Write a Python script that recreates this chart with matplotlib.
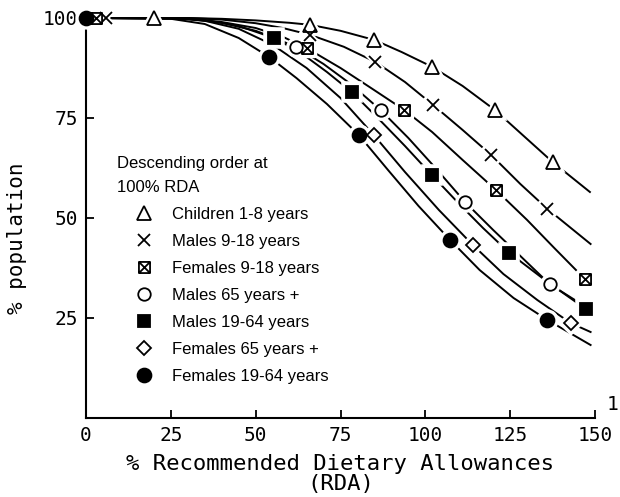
import numpy as np
import matplotlib
matplotlib.use("Agg")
import matplotlib.pyplot as plt
from matplotlib.path import Path
from matplotlib.lines import Line2D

# ----------------------------
# Data
# ----------------------------

children_x = [0, 20, 30, 40, 50, 60, 66, 75, 85, 93, 102, 111, 120.5, 129, 137.5, 148.5]
children_y = [100, 100, 100, 99.8, 99.4, 98.8, 98.3, 96.8, 94.5, 91.5, 87.8, 83, 77, 70.5, 64, 56.5]
children_marks = [1, 6, 8, 10, 12, 14]

m918_x = [0, 6, 30, 40, 50, 58, 66, 76, 85.3, 94, 102.3, 111, 119.4, 128, 136, 148.7]
m918_y = [100, 100, 100, 99.6, 98.7, 97.5, 95.8, 92.8, 89, 84, 78.25, 72, 65.75, 58.5, 52.25, 43.5]
m918_marks = [1, 6, 8, 10, 12, 14]

f918_x = [0, 3, 30, 40, 50, 58, 65, 75, 84, 93.8, 102, 111, 120.8, 130, 138, 147]
f918_y = [100, 100, 99.8, 99, 97.5, 95.3, 92.5, 87.5, 82.5, 77, 71.5, 64.5, 57, 49.5, 42.5, 34.75]
f918_marks = [1, 6, 9, 12, 15]

m65_x = [0, 30, 40, 50, 55, 61.9, 70, 78, 86.8, 95, 103, 111.7, 120, 128, 136.6, 145]
m65_y = [100, 99.8, 98.8, 96.8, 95.2, 92.75, 88.5, 83.5, 77, 70, 62.5, 54, 47, 40.5, 33.5, 29]
m65_marks = [5, 8, 11, 14]

m1964_x = [0, 25, 35, 45, 55.4, 63, 71, 78.3, 86, 94, 101.9, 110, 117, 124.8, 136, 147.3]
m1964_y = [100, 100, 99.5, 98, 95, 91.5, 86.5, 81.5, 75, 68, 60.75, 53.5, 47.5, 41.25, 34, 27.25]
m1964_marks = [4, 7, 10, 13, 15]

f65_x = [0, 25, 35, 45, 55, 65, 75, 84.8, 94, 104, 114, 123, 133, 142.8, 148.7]
f65_y = [100, 100, 99.3, 97.3, 93.3, 87.5, 80, 70.75, 61.5, 52, 43.25, 36, 29.5, 23.75, 21.5]
f65_marks = [7, 10, 13]

f1964_x = [0, 25, 35, 45, 54, 62, 71, 80.4, 89, 98, 107.3, 116, 126, 136, 148.7]
f1964_y = [100, 99.8, 98.5, 95, 90.25, 85, 78.5, 70.75, 62, 53, 44.5, 37, 30, 24.5, 18.25]
f1964_marks = [0, 4, 7, 10, 13]

labels = [
    "Children 1-8 years",
    "Males 9-18 years",
    "Females 9-18 years",
    "Males 65 years +",
    "Males 19-64 years",
    "Females 65 years +",
    "Females 19-64 years",
]

x_ticks = [0, 25, 50, 75, 100, 125, 150]
y_ticks = [25, 50, 75, 100]

# square with an x inside
boxx = Path(
    [(-1, -1), (1, -1), (1, 1), (-1, 1), (-1, -1), (-1, -1), (1, 1), (-1, 1), (1, -1)],
    [Path.MOVETO, Path.LINETO, Path.LINETO, Path.LINETO, Path.CLOSEPOLY,
     Path.MOVETO, Path.LINETO, Path.MOVETO, Path.LINETO],
)

series = [
    (children_x, children_y, children_marks, "^", "white", 10),
    (m918_x, m918_y, m918_marks, "x", "none", 9),
    (f918_x, f918_y, f918_marks, boxx, "white", 8),
    (m65_x, m65_y, m65_marks, "o", "white", 9),
    (m1964_x, m1964_y, m1964_marks, "s", "black", 9),
    (f65_x, f65_y, f65_marks, "D", "white", 7),
    (f1964_x, f1964_y, f1964_marks, "o", "black", 10),
]

# ----------------------------
# Plot
# ----------------------------

mono = "DejaVu Sans Mono"

fig = plt.figure(figsize=(6.2, 4.97), dpi=100)
ax = fig.add_axes([86 / 620, 1 - 418 / 497, 509 / 620, 400 / 497])

handles = []
for (x, y, marks, mk, face, ms) in series:
    ax.plot(x, y, color="black", lw=1.4, zorder=2, clip_on=False)
    ax.plot(np.array(x)[marks], np.array(y)[marks], ls="none", marker=mk,
            ms=ms + 2, mfc="white", mec="white", mew=4, zorder=3, clip_on=False)
    ax.plot(np.array(x)[marks], np.array(y)[marks], ls="none", marker=mk,
            ms=ms, mfc=face, mec="black", mew=1.3, zorder=4, clip_on=False)
    handles.append(Line2D([], [], ls="none", marker=mk, ms=ms, mfc=face,
                          mec="black", mew=1.3))

ax.set_xlim(0, 150)
ax.set_ylim(0, 100)

for side in ["top", "right"]:
    ax.spines[side].set_visible(False)
for side in ["left", "bottom"]:
    ax.spines[side].set_linewidth(1.5)

ax.set_xticks(x_ticks)
ax.set_yticks(y_ticks)
ax.tick_params(axis="both", direction="in", length=6, width=1.3,
               labelsize=14, pad=6)
for lab in ax.get_xticklabels() + ax.get_yticklabels():
    lab.set_fontfamily(mono)

ax.set_xlabel("% Recommended Dietary Allowances\n(RDA)", fontsize=16,
              family=mono, linespacing=1.05, labelpad=6)
ax.set_ylabel("% population", fontsize=15, family=mono)
ax.yaxis.set_label_coords(-0.115, 0.45)

leg = ax.legend(
    handles, labels,
    title="Descending order at\n100% RDA",
    loc="upper left",
    bbox_to_anchor=(0.061, 0.655),
    frameon=False,
    alignment="left",
    prop={"family": "Liberation Sans", "size": 12},
    title_fontproperties={"family": "Liberation Sans", "size": 12},
    handlelength=3.2,
    handletextpad=0.1,
    labelspacing=0.72,
    borderpad=0,
    borderaxespad=0,
)
leg.get_title().set_linespacing(1.75)

fig.text(0.997, 1 - 405 / 497, "1", fontsize=14, family=mono,
         ha="right", va="center")

plt.savefig("out.png", dpi=100)
